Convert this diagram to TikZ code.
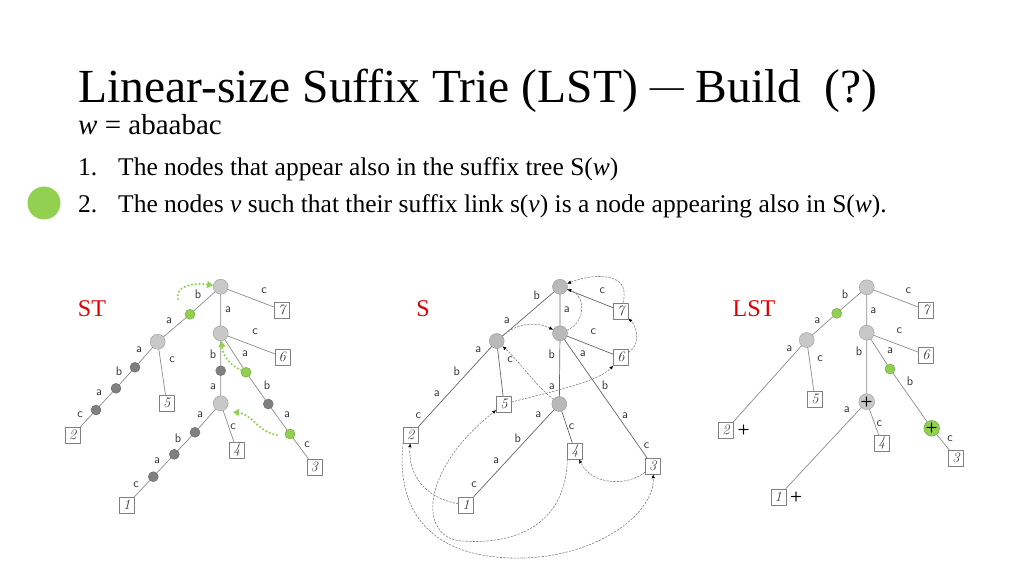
\documentclass[tikz,border=0pt]{standalone}
\usepackage{fontspec}
\setmainfont{Liberation Serif}
\newfontfamily\lmfont{Latin Modern Roman}
\usetikzlibrary{arrows.meta}
\definecolor{ptgreen}{HTML}{92D050}
\definecolor{nodegray}{HTML}{C8C8C8}
\definecolor{darkgray}{HTML}{808080}
\definecolor{edgegray}{HTML}{8C8C8C}
\definecolor{titlered}{HTML}{E00000}
\tikzset{
  inode/.style={circle,draw=gray!80,fill=nodegray,minimum size=15pt,inner sep=0pt},
  dnode/.style={circle,draw=darkgray!80!black,fill=darkgray,minimum size=10pt,inner sep=0pt},
  gnode/.style={circle,draw=ptgreen!75!black,fill=ptgreen,minimum size=10pt,inner sep=0pt},
  leaf/.style={rectangle,draw=gray,fill=white,minimum width=15pt,minimum height=16pt,inner sep=0pt,
    font=\lmfont\itshape\fontsize{14.5}{14.5}\selectfont,text=black!75},
  lab/.style={text=black!80,inner sep=0pt},
  tedge/.style={draw=edgegray,line width=0.7pt},
  sedge/.style={draw=black!60,line width=0.7pt},
  glink/.style={draw=ptgreen,line width=2.4pt,dash pattern=on 0pt off 3.8pt,line cap=round,
    -{Triangle[length=6pt,width=7pt]}},
  slink/.style={draw=black!50,line width=0.6pt,dash pattern=on 2pt off 1.5pt,
    -{Latex[length=4pt,width=3.5pt,color=black]}},
  treename/.style={text=titlered,font=\rmfamily\fontsize{24}{24}\selectfont},
  plus/.style={font=\sffamily\bfseries\fontsize{14}{14}\selectfont}
}
\begin{document}
\begin{tikzpicture}[x=1pt,y=-1pt,line join=round,line cap=round,font=\sffamily\fontsize{12.5}{14}\selectfont]
\useasboundingbox (0,0) rectangle (1024,576);

% heading and the two rules
\node[anchor=base west,inner sep=0pt,font=\rmfamily\fontsize{47.5}{48}\selectfont] (title) at (78,102)
  {Linear-size Suffix Trie (LST)~\raisebox{5pt}{\fontsize{34}{34}\selectfont —}~Build~~(?)};
\node[anchor=base west,inner sep=0pt,font=\rmfamily\fontsize{29}{29}\selectfont] (wline) at (78,134)
  {\textit{w} = abaabac};
\node[anchor=base west,inner sep=0pt,font=\rmfamily\fontsize{25.5}{26}\selectfont] (item1) at (78,175)
  {\makebox[40pt][l]{1.}The nodes that appear also in the suffix tree S(\textit{w})};
\node[anchor=base west,inner sep=0pt,font=\rmfamily\fontsize{25.5}{26}\selectfont] (item2) at (78,212)
  {\makebox[40pt][l]{2.}The nodes \textit{v} such that their suffix link s(\textit{v}) is a node appearing also in S(\textit{w}).};
\node[circle,fill=ptgreen,minimum size=33pt,inner sep=0pt] (mark) at (44,203) {};

% ST
\node[treename] (stname) at (92,309) {ST};
\node[inode] (tr) at (220.7,286.7) {};
\node[gnode] (tg1) at (190,314.3) {};
\node[inode] (tb) at (157.7,341.7) {};
\node[dnode] (td1) at (135,367.3) {};
\node[dnode] (td2) at (116,388.3) {};
\node[dnode] (td3) at (96,410) {};
\node[leaf] (t2) at (72.7,435) {2};
\node[leaf] (t5) at (166.7,403.3) {5};
\node[leaf] (t7) at (281.7,310) {7};
\node[inode] (ta) at (220.7,333.3) {};
\node[leaf] (t6) at (282.3,356.7) {6};
\node[dnode] (td4) at (220.7,370.7) {};
\node[inode] (taba) at (220.7,403.3) {};
\node[gnode] (tg2) at (246,372.3) {};
\node[dnode] (td5) at (268.3,404) {};
\node[gnode] (tg3) at (290,434) {};
\node[leaf] (t3) at (314.3,466.7) {3};
\node[leaf] (t4) at (236.7,450) {4};
\node[dnode] (td6) at (195,432.3) {};
\node[dnode] (td7) at (174.3,454.3) {};
\node[dnode] (td8) at (153.3,476.7) {};
\node[leaf] (t1) at (126.7,505) {1};
\draw[tedge] (tr)--(tg1)--(tb)--(td1)--(td2)--(td3)--(t2);
\draw[tedge] (tb)--(t5);
\draw[tedge] (tr)--(t7);
\draw[tedge] (tr)--(ta)--(t6);
\draw[tedge] (ta)--(td4)--(taba)--(t4);
\draw[tedge] (ta)--(tg2)--(td5)--(tg3)--(t3);
\draw[tedge] (taba)--(td6)--(td7)--(td8)--(t1);
\path (198,294) node[lab] (tl1) {b} (169,321) node[lab] (tl2) {a}
  (139,350) node[lab] (tl3) {a} (119,371) node[lab] (tl4) {b}
  (99,393) node[lab] (tl5) {a} (80,415) node[lab] (tl6) {c}
  (172,360) node[lab] (tl7) {c} (228,310) node[lab] (tl8) {a}
  (264,291) node[lab] (tl9) {c} (255,332) node[lab] (tl10) {c}
  (213,354) node[lab] (tl11) {b} (213,387) node[lab] (tl12) {a}
  (245,354) node[lab] (tl13) {a} (267,385) node[lab] (tl14) {b}
  (287,415) node[lab] (tl15) {a} (307,445) node[lab] (tl16) {c}
  (200,415) node[lab] (tl17) {a} (178,438) node[lab] (tl18) {b}
  (157,461) node[lab] (tl19) {a} (136,485) node[lab] (tl20) {c}
  (233,427) node[lab] (tl21) {c};
\coordinate (tg1s) at (178,299);
\coordinate (tg3s) at (277,435);
\coordinate (tg3e) at (233,412);
\draw[glink] (tg1s) .. controls (175,287) and (192,282) .. (tr);
\draw[glink] (tg2) .. controls (232,366) and (223,358) .. (ta);
\draw[glink] (tg3s) .. controls (258,432) and (252,414) .. (tg3e);

% S
\node[treename] (sname) at (423,309) {S};
\node[inode,fill=gray!55] (sr) at (560,286.7) {};
\node[inode,fill=gray!55] (sb) at (496.7,341) {};
\node[inode,fill=gray!55] (sa) at (560,333.3) {};
\node[inode,fill=gray!55] (saba) at (559.3,404) {};
\node[leaf] (s7) at (620.7,310.7) {7};
\node[leaf] (s6) at (621,357.3) {6};
\node[leaf] (s5) at (504,404) {5};
\node[leaf] (s2) at (410.7,435) {2};
\node[leaf] (s4) at (575,451) {4};
\node[leaf] (s3) at (652.7,466) {3};
\node[leaf] (s1) at (466,505) {1};
\draw[sedge] (sr)--(sb)--(s2);
\draw[sedge] (sb)--(s5);
\draw[sedge] (sr)--(s7);
\draw[sedge] (sr)--(sa)--(s6);
\draw[sedge] (sa)--(saba)--(s1);
\draw[sedge] (saba)--(s4);
\draw[sedge] (sa)--(s3);
\path (536.7,295) node[lab] (sl1) {b} (506.7,320.7) node[lab] (sl2) {a}
  (478.3,350) node[lab] (sl3) {a} (456.7,371.7) node[lab] (sl4) {b}
  (436.7,394) node[lab] (sl5) {a} (418.3,415.7) node[lab] (sl6) {c}
  (510,360) node[lab] (sl7) {c} (566.7,310) node[lab] (sl8) {a}
  (602.3,290.7) node[lab] (sl9) {c} (593.3,331.7) node[lab] (sl10) {c}
  (551.7,354) node[lab] (sl11) {b} (551.7,386.7) node[lab] (sl12) {a}
  (582.7,353.3) node[lab] (sl13) {a} (605,385) node[lab] (sl14) {b}
  (625,415.7) node[lab] (sl15) {a} (646.7,446) node[lab] (sl16) {c}
  (538.3,415) node[lab] (sl17) {a} (517.7,438.3) node[lab] (sl18) {b}
  (496,460.7) node[lab] (sl19) {a} (474,485) node[lab] (sl20) {c}
  (571.7,426.7) node[lab] (sl21) {c};
\draw[slink] (s7) .. controls (632,270) and (590,274) .. (sr);
\draw[slink] (sa) .. controls (586,322) and (586,296) .. (sr);
\draw[slink] (sb) .. controls (518,322) and (538,322) .. (sa);
\draw[slink] (saba) .. controls (535,385) and (520,362) .. (sb);
\draw[slink] (s1) .. controls (425,498) and (408,475) .. (s2);
\draw[slink] (s2.south west) .. controls (395,520) and (440,560) .. (523,558)
  .. controls (600,556) and (655,512) .. (s3);
\draw[slink] (s3) .. controls (628,486) and (592,486) .. (s4);
\draw[slink] (s4.south west) .. controls (566,525) and (515,545) .. (462,541)
  .. controls (418,538) and (420,470) .. (s5);
\draw[slink] (s5) .. controls (550,392) and (598,382) .. (s6);
\draw[slink] (s6) .. controls (640,345) and (638,328) .. (s7);

% LST
\node[treename] (lname) at (754,309) {LST};
\node[inode] (lr) at (866.7,287.3) {};
\node[gnode] (lg1) at (836.7,313.3) {};
\node[inode] (lb) at (806.7,340) {};
\node[inode] (la) at (866.7,332.7) {};
\node[leaf] (l7) at (926,310) {7};
\node[leaf] (l6) at (926,355) {6};
\node[leaf] (l5) at (815,399.3) {5};
\node[leaf,label={[plus,label distance=0.5pt]right:+}] (l2) at (726,430) {2};
\node[inode,plus] (laba) at (866.7,401.7) {+};
\node[gnode] (lg2) at (890,369) {};
\node[gnode,plus] (lg3) at (931.7,428.3) {+};
\node[leaf] (l3) at (956,458.3) {3};
\node[leaf] (l4) at (881.7,443.3) {4};
\node[leaf,label={[plus,label distance=0.5pt]right:+}] (l1) at (778.3,496.7) {1};
\draw[tedge] (lr)--(lg1)--(lb)--(l2);
\draw[tedge] (lb)--(l5);
\draw[tedge] (lr)--(l7);
\draw[tedge] (lr)--(la)--(l6);
\draw[tedge] (la)--(laba)--(l1);
\draw[tedge] (laba)--(l4);
\draw[tedge] (la)--(lg2)--(lg3)--(l3);
\path (845,294) node[lab] (ll1) {b} (817.3,320.7) node[lab] (ll2) {a}
  (789.3,348.3) node[lab] (ll3) {a} (820,358.3) node[lab] (ll4) {c}
  (873.3,310.7) node[lab] (ll5) {a} (908.3,290.7) node[lab] (ll6) {c}
  (899.3,330.7) node[lab] (ll7) {c} (859,351.7) node[lab] (ll8) {b}
  (890,351) node[lab] (ll9) {a} (910,381.7) node[lab] (ll10) {b}
  (950,438.3) node[lab] (ll11) {c} (846.7,410) node[lab] (ll12) {a}
  (879.3,423.3) node[lab] (ll13) {c};
\end{tikzpicture}
\end{document}
